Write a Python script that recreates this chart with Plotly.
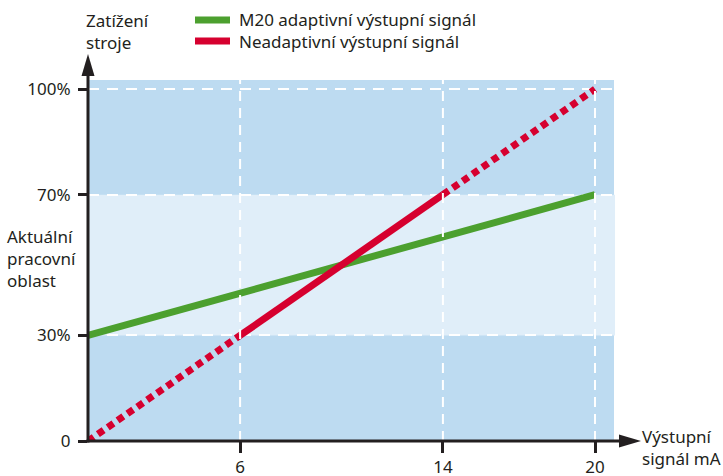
import plotly.graph_objects as go

# ---- data ----
signal_mA = [0, 6, 14, 20]
non_adaptive_load = [0, 30, 70, 100]
adaptive_signal = [0, 20]
adaptive_load = [30, 70]
x_ticks = [6, 14, 20]
x_tick_labels = ["6", "14", "20"]
y_ticks = [0, 30, 70, 100]
y_tick_labels = ["0", "30%", "70%", "100%"]
band_low, band_high = 30, 70

label_adaptive = "M20 adaptivní výstupní signál"
label_nonadaptive = "Neadaptivní výstupní signál"

# ---- style ----
W, H = 723, 476
L, R, T, B = 88, 109, 80, 35
PW, PH = W - L - R, H - T - B
FONT = "Noto Sans"
FS = 17
TXT = "#231f20"
DARK = "#bddbf1"
LIGHT = "#e0eef9"
GREEN = "#4ca02f"
RED = "#d6002f"


def px(xp):
    return (xp - L) / PW


def py(yp):
    return (H - B - yp) / PH


fig = go.Figure()

fig.add_trace(go.Scatter(x=adaptive_signal, y=adaptive_load, mode="lines",
                         line=dict(color=GREEN, width=7), name=label_adaptive,
                         showlegend=False, cliponaxis=False))
fig.add_trace(go.Scatter(x=signal_mA[0:2], y=non_adaptive_load[0:2], mode="lines",
                         line=dict(color=RED, width=7, dash="7px,5px"),
                         showlegend=False, cliponaxis=False))
fig.add_trace(go.Scatter(x=signal_mA[1:3], y=non_adaptive_load[1:3], mode="lines",
                         line=dict(color=RED, width=7), name=label_nonadaptive,
                         showlegend=False, cliponaxis=False))
fig.add_trace(go.Scatter(x=signal_mA[2:4], y=non_adaptive_load[2:4], mode="lines",
                         line=dict(color=RED, width=7, dash="7px,5px"),
                         showlegend=False, cliponaxis=False))

shapes = []
# light working band
shapes.append(dict(type="rect", xref="paper", yref="y", x0=0, x1=1.002,
                   y0=band_low, y1=band_high, fillcolor=LIGHT,
                   line=dict(width=0), layer="below"))
# vertical dashed grid (drawn above traces)
for xv in x_ticks:
    shapes.append(dict(type="line", xref="x", yref="paper", x0=xv, x1=xv,
                       y0=0, y1=1, line=dict(color="white", width=2, dash="10px,7px"),
                       layer="above"))
# axes lines and arrows
shapes.append(dict(type="line", xref="paper", yref="paper", x0=px(L), x1=px(L),
                   y0=py(H - B + 1.5), y1=py(74), line=dict(color=TXT, width=3)))
shapes.append(dict(type="line", xref="paper", yref="paper", x0=px(L - 1.5), x1=px(622),
                   y0=0, y1=0, line=dict(color=TXT, width=3)))
shapes.append(dict(type="path", xref="paper", yref="paper",
                   path=f"M{px(L)},{py(54)} L{px(L - 6.5)},{py(76)} L{px(L + 6.5)},{py(76)} Z",
                   fillcolor=TXT, line=dict(width=0)))
shapes.append(dict(type="path", xref="paper", yref="paper",
                   path=f"M{px(641)},0 L{px(619)},{py(H - B - 6.5)} L{px(619)},{py(H - B + 6.5)} Z",
                   fillcolor=TXT, line=dict(width=0)))
# custom legend swatches
shapes.append(dict(type="line", xref="paper", yref="paper", x0=px(195), x1=px(230),
                   y0=py(20), y1=py(20), line=dict(color=GREEN, width=7)))
shapes.append(dict(type="line", xref="paper", yref="paper", x0=px(195), x1=px(230),
                   y0=py(41), y1=py(41), line=dict(color=RED, width=7)))

annotations = []


def txt(s, xp, yp):
    annotations.append(dict(text=s, xref="paper", yref="paper", x=px(xp), y=py(yp),
                            xanchor="left", yanchor="middle", align="left", showarrow=False,
                            font=dict(family=FONT, size=FS, color=TXT)))


txt(label_adaptive + "<br>" + label_nonadaptive, 237, 31)
txt("Zatížení<br>stroje", 84, 31.5)
txt("Aktuální<br>pracovní<br>oblast", 5, 258)
txt("Výstupní<br>signál mA", 640, 447)

fig.update_layout(
    width=W, height=H,
    margin=dict(l=L, r=R, t=T, b=B, pad=0, autoexpand=False),
    paper_bgcolor="white", plot_bgcolor=DARK,
    font=dict(family=FONT, size=FS, color=TXT),
    showlegend=False,
    shapes=shapes, annotations=annotations,
    xaxis=dict(range=[0, 20 * PW / (595 - L)], tickvals=x_ticks, ticktext=x_tick_labels,
               showgrid=False, zeroline=False, showline=False, automargin=False,
               ticks="outside", ticklen=11, tickwidth=3, tickcolor=TXT,
               tickfont=dict(family=FONT, size=FS, color=TXT), fixedrange=True),
    yaxis=dict(range=[0, 102.6], tickvals=y_ticks, ticktext=y_tick_labels,
               showgrid=True, gridcolor="white", gridwidth=2, griddash="11px,8px",
               zeroline=False, showline=False, ticklabelstandoff=4, automargin=False,
               ticks="outside", ticklen=9, tickwidth=3, tickcolor=TXT,
               tickfont=dict(family=FONT, size=FS, color=TXT), fixedrange=True),
)

fig.write_html("out.html", config={"displayModeBar": False},
               post_script="document.body.style.margin='0';document.body.style.overflow='hidden';")
